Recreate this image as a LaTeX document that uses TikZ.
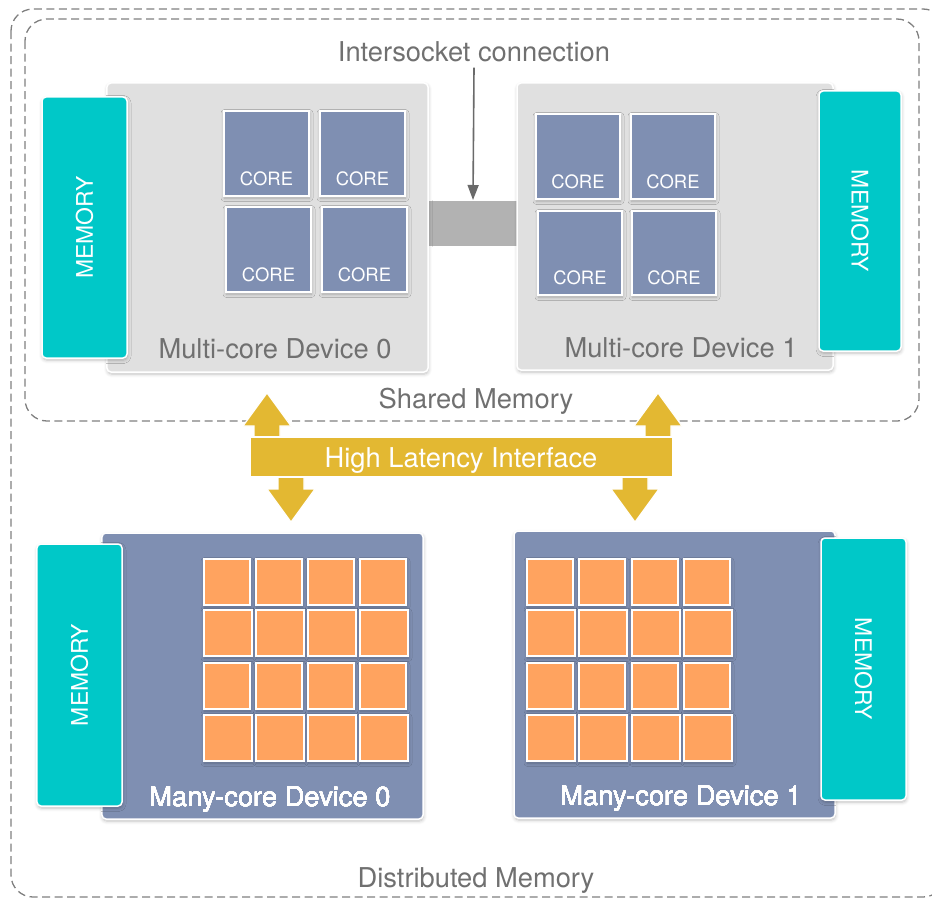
\documentclass[tikz,border=0pt]{standalone}
\usepackage{fontspec}
\setmainfont{TeX Gyre Heros}
\usetikzlibrary{arrows.meta,shadows.blur}

\definecolor{memteal}{RGB}{0,200,200}
\definecolor{coreblue}{RGB}{127,143,178}
\definecolor{devgray}{RGB}{224,224,224}
\definecolor{linkgray}{RGB}{178,178,178}
\definecolor{cellorange}{RGB}{255,163,95}
\definecolor{busgold}{RGB}{227,184,50}
\definecolor{labelgray}{RGB}{112,112,112}
\definecolor{dashgray}{RGB}{128,128,128}

% rectangle node given by its corners: [style]{name}{x1}{y1}{x2}{y2}, y measured downwards
\newcommand\rbox[6][]{%
  \pgfmathsetmacro\rbw{#5-#3}%
  \pgfmathsetmacro\rbh{#6-#4}%
  \node[#1, minimum width=\rbw bp, minimum height=\rbh bp, inner sep=0pt, outer sep=0pt]
    (#2) at ({(#3+#5)/2},{-(#4+#6)/2}) {};}

% block arrows: {tip x}{tip y}{shaft end y}
\newcommand\busup[3]{%
  \path[busarrow] (#1,-#2) -- ({#1+24},{-#2-33}) -- ({#1+13},{-#2-33}) -- ({#1+13},-#3)
    -- ({#1-13},-#3) -- ({#1-13},{-#2-33}) -- ({#1-24},{-#2-33}) -- cycle;}
\newcommand\busdown[3]{%
  \path[busarrow] (#1,-#2) -- ({#1+24},{-#2+33}) -- ({#1+13},{-#2+33}) -- ({#1+13},-#3)
    -- ({#1-13},-#3) -- ({#1-13},{-#2+33}) -- ({#1-24},{-#2+33}) -- cycle;}

\begin{document}
\begin{tikzpicture}[x=1bp,y=1bp,
  region/.style={draw=dashgray, line width=1.3bp, dash pattern=on 8bp off 4.5bp, rounded corners=22bp},
  softshadow/.style={blur shadow={shadow xshift=0.5bp, shadow yshift=-2bp,
      shadow blur radius=3.5bp, shadow blur steps=6, shadow opacity=25}},
  device/.style={draw=white, line width=1.5bp, rounded corners=4bp, softshadow},
  multidev/.style={device, fill=devgray},
  manydev/.style={device, fill=coreblue},
  memory/.style={draw=white, line width=1.5bp, rounded corners=4bp, fill=memteal, softshadow},
  corebox/.style={draw=white, line width=1.5bp, fill=coreblue, softshadow},
  cell/.style={draw=white, line width=1.5bp, fill=cellorange, softshadow},
  link/.style={draw=white, line width=1bp, fill=linkgray},
  bus/.style={draw=white, line width=1.2bp, fill=busgold},
  busarrow/.style={draw=white, line width=1.2bp, fill=busgold, line join=miter},
  biglabel/.style={font=\fontsize{27.4}{32}\selectfont, text=labelgray, inner sep=0pt, anchor=base},
  coretext/.style={font=\fontsize{18.5}{22}\selectfont, text=white, inner sep=0pt, anchor=base},
  memtext/.style={font=\fontsize{23}{27}\selectfont, text=white, inner sep=0pt},
]
\clip (0,0) rectangle (932,-898);

% memory domains
\path[region] (11,-9) rectangle (945,-897);
\path[region] (25,-19) rectangle (919,-421);

\node[biglabel] (isc) at (474,-61) {Intersocket connection};
\node[biglabel] (shm) at (476,-408) {Shared Memory};
\node[biglabel] (dsm) at (476,-887) {Distributed Memory};

% socket link between the two multi-core devices
\rbox[link]{link}{420}{200}{526}{246}

% multi-core device 0
\rbox[multidev]{mc0}{107}{83}{428}{372}
\rbox[memory]{mem0}{42}{97}{127}{358}
\node[memtext, rotate=90] at (mem0.center) {MEMORY};
\rbox[corebox]{c0a}{224}{111}{309}{196}
\rbox[corebox]{c0b}{320}{111}{405}{196}
\rbox[corebox]{c0c}{226}{207}{311}{292}
\rbox[corebox]{c0d}{322}{207}{407}{292}
\foreach \c in {c0a,c0b,c0c,c0d}
  \node[coretext] at ([yshift=11bp]\c.south) {CORE};
\node[biglabel] (mc0l) at (275,-358) {Multi-core Device 0};

% multi-core device 1
\rbox[multidev]{mc1}{517}{83}{833}{370}
\rbox[memory]{mem1}{819}{91}{901}{351}
\node[memtext, rotate=-90] at (mem1.center) {MEMORY};
\rbox[corebox]{c1a}{536}{114}{620}{199}
\rbox[corebox]{c1b}{631}{114}{715}{199}
\rbox[corebox]{c1c}{538}{211}{622}{295}
\rbox[corebox]{c1d}{632}{211}{716}{295}
\foreach \c in {c1a,c1b,c1c,c1d}
  \node[coretext] at ([yshift=11bp]\c.south) {CORE};
\node[biglabel] (mc1l) at (681,-357) {Multi-core Device 1};

\draw[line width=1.6bp, draw=labelgray!95!black, -{Triangle[length=15bp,width=11bp]}]
  ([yshift=-6bp]isc.south) -- (link.north);

% many-core device 0
\rbox[manydev]{mn0}{102}{533}{423}{819}
\rbox[memory]{mem2}{37}{544}{122}{806}
\node[memtext, rotate=90] at (mem2.center) {MEMORY};
\foreach \r/\y/\o in {1/559/0,2/610/1,3/663/0,4/715/1}
  \foreach \k/\x in {1/204,2/256,3/308,4/360}
    \rbox[cell]{p0-\r-\k}{\x+\o}{\y}{\x+\o+46}{\y+46}
\node[biglabel, text=white] (mn0l) at (270,-806) {Many-core Device 0};

% many-core device 1
\rbox[manydev]{mn1}{514}{531}{835}{818}
\rbox[memory]{mem3}{821}{538}{906}{800}
\node[memtext, rotate=-90] at (mem3.center) {MEMORY};
\foreach \r/\y/\o in {1/559/0,2/610/1,3/663/0,4/715/1}
  \foreach \k/\x in {1/527,2/579,3/632,4/684}
    \rbox[cell]{p1-\r-\k}{\x+\o}{\y}{\x+\o+46}{\y+46}
\node[biglabel, text=white] (mn1l) at (681,-805) {Many-core Device 1};

% high latency interface with its block arrows
\busup{267}{393}{442}
\busdown{291}{522}{472}
\busup{658}{393}{442}
\busdown{635}{522}{472}
\rbox[bus]{hli}{250}{437}{673}{477}
\node[biglabel, text=white] (hlil) at (461,-467) {High Latency Interface};
\end{tikzpicture}
\end{document}
